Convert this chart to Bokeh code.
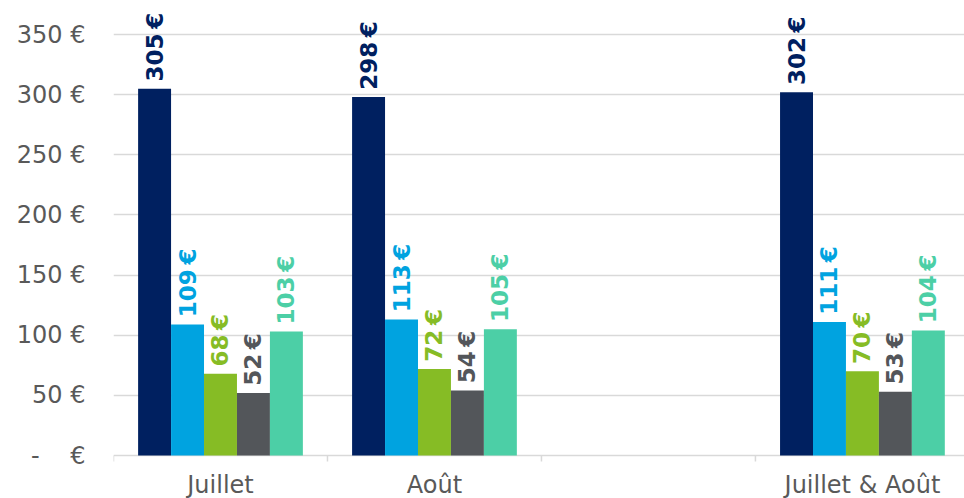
from bokeh.plotting import figure
from bokeh.models import Range1d, FixedTicker, ColumnDataSource
from bokeh.embed import file_html
from bokeh.resources import INLINE
from bokeh.core.properties import value

categories = ["Juillet", "Août", "", "Juillet & Août"]
series_a = [305, 298, None, 302]
series_b = [109, 113, None, 111]
series_c = [68, 72, None, 70]
series_d = [52, 54, None, 53]
series_e = [103, 105, None, 104]
series = [series_a, series_b, series_c, series_d, series_e]
colors = ["#002060", "#00A3E0", "#86BC25", "#53565A", "#4CCFA6"]
y_ticks = [0, 50, 100, 150, 200, 250, 300, 350]
y_labels = ["-\u00a0\u00a0\u00a0\u00a0€", "50 €", "100 €", "150 €", "200 €", "250 €", "300 €", "350 €"]

FONT = "DejaVu Sans"
PX = 421 / 350.0          # pixels per euro on the value axis
Y_TOP = 450 / PX
Y_BOT = -43 / PX          # room under the baseline for category names

p = figure(width=964, height=498, output_backend="svg", toolbar_location=None,
           x_range=Range1d(0, 3.977), y_range=Range1d(Y_BOT, Y_TOP),
           x_axis_location=None,
           min_border_left=113, min_border_right=0, min_border_top=5, min_border_bottom=0)
p.outline_line_color = None
p.xgrid.grid_line_color = None
p.ygrid.grid_line_color = "#D9D9D9"
p.ygrid.grid_line_width = 1.5
p.ygrid.ticker = FixedTicker(ticks=y_ticks)

bw = 0.154
for i, (vals, col) in enumerate(zip(series, colors)):
    xs, ys, labs = [], [], []
    for j, v in enumerate(vals):
        if v is None:
            continue
        xs.append(j + 0.5 + (i - 2) * bw)
        ys.append(v)
        labs.append(f"{v}\u202f€")
    src = ColumnDataSource(dict(x=xs, top=ys, ly=[y + 6 for y in ys], lab=labs))
    p.vbar(x="x", top="top", bottom=0, width=bw, source=src, fill_color=col, line_color=None)
    p.text(x="x", y="ly", text="lab", source=src, angle=1.5708, text_align="left",
           text_baseline="middle", text_color=col, text_font=value(FONT),
           text_font_style="bold", text_font_size="23px")

# category boundary ticks under the baseline
bounds = list(range(len(categories) + 1))
p.segment(x0=bounds, y0=[0] * len(bounds), x1=bounds, y1=[-6 / PX] * len(bounds),
          line_color="#D9D9D9", line_width=1.5)

# category names
centers = [j + 0.5 for j in range(len(categories))]
p.text(x=centers, y=[-15 / PX] * len(centers), text=categories, text_align="center",
       text_baseline="top", text_color="#595959", text_font=value(FONT),
       text_font_size="24px")

# y axis
ya = p.yaxis[0]
ya.ticker = FixedTicker(ticks=y_ticks)
ya.major_label_overrides = {t: l for t, l in zip(y_ticks, y_labels)}
ya.axis_line_color = None
ya.major_tick_line_color = None
ya.minor_tick_line_color = None
ya.major_tick_out = 0
ya.major_tick_in = 0
ya.major_label_standoff = 28
ya.major_label_text_font = FONT
ya.major_label_text_font_size = "24px"
ya.major_label_text_color = "#595959"

open("out.html", "w").write(file_html(p, INLINE))
